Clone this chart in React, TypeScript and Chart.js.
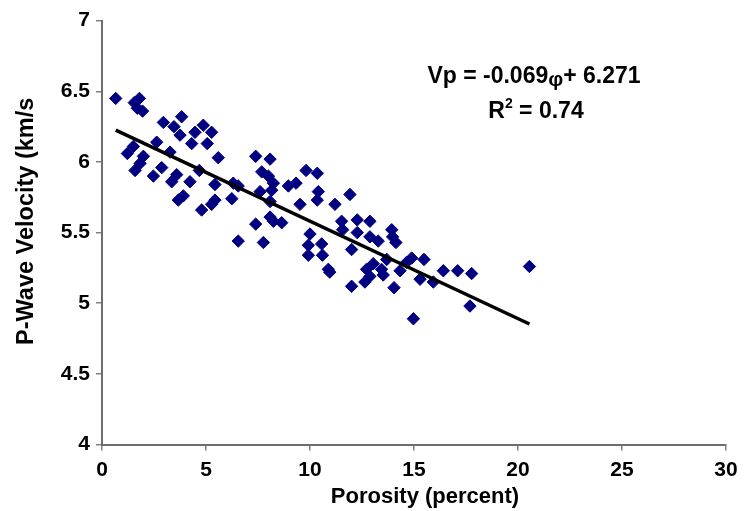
import { useEffect, useRef } from "react";
import { Chart, registerables } from "chart.js";

Chart.register(...registerables);

const porosity = [0.66, 1.55, 1.8, 1.95, 1.7, 2.95, 3.83, 3.46, 3.75, 4.47, 4.87, 5.27, 4.31, 5.06, 2.63, 1.51, 1.22, 1.99, 1.83, 1.59, 3.27, 2.87, 2.47, 3.59, 4.23, 4.68, 5.59, 3.35, 3.91, 3.67, 4.79, 5.43, 5.43, 5.27, 7.39, 8.08, 7.68, 8.0, 8.24, 8.16, 7.6, 8.08, 8.96, 9.33, 9.81, 10.35, 9.52, 10.4, 10.35, 6.31, 6.55, 6.24, 8.08, 8.24, 8.64, 7.39, 6.55, 7.76, 10.0, 9.92, 10.56, 9.92, 10.6, 11.92, 11.2, 11.52, 11.57, 12.27, 12.88, 12.27, 12.88, 13.28, 12.0, 13.93, 13.97, 14.13, 10.88, 13.04, 12.72, 13.44, 12.88, 13.69, 14.33, 14.89, 15.48, 15.29, 15.93, 12.0, 12.64, 14.04, 14.65, 20.55, 14.97, 17.69, 17.77, 17.1, 16.41, 13.52, 10.95];
const velocity = [6.45, 6.42, 6.45, 6.36, 6.38, 6.28, 6.32, 6.25, 6.19, 6.21, 6.26, 6.21, 6.13, 6.13, 6.14, 6.11, 6.06, 6.04, 5.99, 5.94, 6.07, 5.96, 5.9, 5.91, 5.86, 5.94, 6.03, 5.86, 5.76, 5.73, 5.66, 5.84, 5.73, 5.7, 6.04, 6.02, 5.93, 5.9, 5.85, 5.8, 5.79, 5.72, 5.83, 5.85, 5.94, 5.92, 5.7, 5.79, 5.73, 5.85, 5.83, 5.74, 5.61, 5.58, 5.57, 5.56, 5.44, 5.43, 5.49, 5.41, 5.42, 5.34, 5.34, 5.77, 5.7, 5.58, 5.52, 5.59, 5.58, 5.5, 5.47, 5.44, 5.38, 5.52, 5.47, 5.43, 5.24, 5.28, 5.24, 5.24, 5.19, 5.31, 5.23, 5.32, 5.31, 5.17, 5.15, 5.12, 5.15, 5.11, 5.29, 5.26, 4.89, 4.98, 5.21, 5.23, 5.23, 5.2, 5.22];

const xTicks = [0, 5, 10, 15, 20, 25, 30];
const yTicks = [4, 4.5, 5, 5.5, 6, 6.5, 7];
const xTickLabels = ["0", "5", "10", "15", "20", "25", "30"];
const yTickLabels = ["4", "4.5", "5", "5.5", "6", "6.5", "7"];

const slope = -0.069;
const intercept = 6.271;
const trendX = [0.66, 20.55];

const xTitle = "Porosity (percent)";
const yTitle = "P-Wave Velocity (km/s";
const eqLeft = "Vp = -0.069";
const eqPhi = "\u03C6";
const eqRight = "+ 6.271";
const r2Label = "R";
const r2Sup = "2";
const r2Value = " = 0.74";

const FONT = '"Liberation Sans", Arial, sans-serif';

const textPlugin = {
  id: "customTexts",
  afterDraw(chart: any) {
    const ctx = chart.ctx as CanvasRenderingContext2D;
    ctx.save();
    ctx.fillStyle = "#000";
    ctx.textBaseline = "alphabetic";

    // x title
    ctx.font = `bold 22px ${FONT}`;
    ctx.textAlign = "center";
    ctx.fillText(xTitle, 425, 503);

    // y title (clipped at top like the reference)
    ctx.save();
    ctx.beginPath();
    ctx.rect(0, 97, 60, 300);
    ctx.clip();
    ctx.font = `bold 23.5px ${FONT}`;
    ctx.translate(33, 345);
    ctx.rotate(-Math.PI / 2);
    ctx.textAlign = "left";
    ctx.fillText(yTitle, 0, 0);
    ctx.restore();

    // equation
    ctx.textAlign = "left";
    ctx.font = `bold 23px ${FONT}`;
    const w1 = ctx.measureText(eqLeft).width;
    const w3 = ctx.measureText(eqRight).width;
    ctx.font = `bold 21px ${FONT}`;
    const w2 = ctx.measureText(eqPhi).width;
    const total = w1 + w2 + w3;
    let x = 534 - total / 2;
    ctx.font = `bold 23px ${FONT}`;
    ctx.fillText(eqLeft, x, 83);
    x += w1;
    ctx.font = `bold 21px ${FONT}`;
    ctx.fillText(eqPhi, x, 86);
    x += w2;
    ctx.font = `bold 23px ${FONT}`;
    ctx.fillText(eqRight, x, 83);

    // R^2
    const wr = ctx.measureText(r2Label).width;
    const wv = ctx.measureText(r2Value).width;
    ctx.font = `bold 14px ${FONT}`;
    const ws = ctx.measureText(r2Sup).width;
    let rx = 536 - (wr + ws + wv) / 2;
    ctx.font = `bold 23px ${FONT}`;
    ctx.fillText(r2Label, rx, 118);
    rx += wr;
    ctx.font = `bold 14px ${FONT}`;
    ctx.fillText(r2Sup, rx, 108);
    rx += ws;
    ctx.font = `bold 23px ${FONT}`;
    ctx.fillText(r2Value, rx, 118);

    ctx.restore();
  },
};

export default function App() {
  const ref = useRef<HTMLCanvasElement | null>(null);

  useEffect(() => {
    if (!ref.current) return;
    const scatter = porosity.map((p, i) => ({ x: p, y: velocity[i] }));
    const trend = trendX.map((p) => ({ x: p, y: intercept + slope * p }));
    const chart = new Chart(ref.current, {
      type: "scatter",
      data: {
        datasets: [
          {
            type: "line",
            label: "Trend",
            data: trend,
            borderColor: "#000000",
            borderWidth: 3.5,
            pointRadius: 0,
            showLine: true,
            fill: false,
            order: 0,
          } as any,
          {
            label: "Vp",
            data: scatter,
            pointStyle: "rectRot",
            pointRadius: 6.2,
            backgroundColor: "#000080",
            borderColor: "#000080",
            borderWidth: 1,
            order: 1,
          },
        ],
      },
      options: {
        responsive: false,
        animation: false,
        events: [],
        layout: { padding: { left: 0, top: 20.7, right: 19, bottom: 0 } },
        plugins: { legend: { display: false }, tooltip: { enabled: false }, title: { display: false } },
        scales: {
          x: {
            type: "linear",
            min: 0,
            max: 30,
            afterBuildTicks: (s: any) => {
              s.ticks = xTicks.map((v) => ({ value: v }));
            },
            afterFit: (s: any) => {
              s.height = 511 - 444.5;
            },
            ticks: {
              color: "#000",
              font: { family: FONT, size: 21, weight: "bold" },
              padding: 7,
              maxRotation: 0,
              callback: (v: any) => {
                const i = xTicks.indexOf(Number(v));
                return i >= 0 ? xTickLabels[i] : "";
              },
            },
            grid: { drawOnChartArea: false, drawTicks: true, tickLength: 6, color: "#808080", lineWidth: 1.5 },
            border: { display: true, color: "#6e6e6e", width: 2 },
          },
          y: {
            type: "linear",
            min: 4,
            max: 7,
            afterBuildTicks: (s: any) => {
              s.ticks = yTicks.map((v) => ({ value: v }));
            },
            afterFit: (s: any) => {
              s.width = 102;
            },
            ticks: {
              color: "#000",
              font: { family: FONT, size: 21, weight: "bold" },
              padding: 6,
              callback: (v: any) => {
                const i = yTicks.indexOf(Number(v));
                return i >= 0 ? yTickLabels[i] : "";
              },
            },
            grid: { drawOnChartArea: false, drawTicks: true, tickLength: 6, color: "#808080", lineWidth: 1.5 },
            border: { display: true, color: "#6e6e6e", width: 2 },
          },
        },
      },
      plugins: [textPlugin],
    });
    return () => chart.destroy();
  }, []);

  return (
    <div style={{ position: "absolute", left: 0, top: 0, width: 745, height: 511, background: "#fff" }}>
      <canvas ref={ref} width={745} height={511} style={{ display: "block" }} />
    </div>
  );
}
